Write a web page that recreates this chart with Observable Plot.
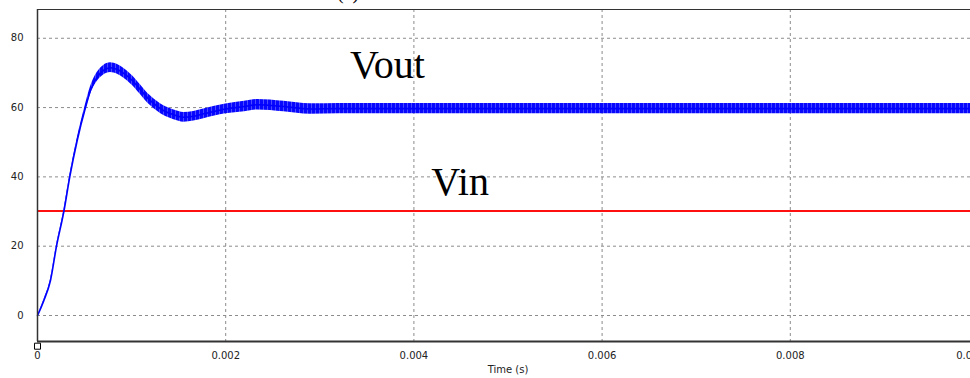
<!DOCTYPE html>
<html>
<head>
<meta charset="utf-8">
<script src="https://cdn.jsdelivr.net/npm/d3@7"></script>
<script src="https://cdn.jsdelivr.net/npm/@observablehq/plot@0.6"></script>
<style>
  html, body { margin: 0; padding: 0; background: #fff; overflow: hidden; }
  #wrap { position: relative; width: 970px; height: 378px; overflow: hidden; }
  #caption { position: absolute; left: 337px; top: -18px; font: 20px "Liberation Serif", serif; line-height: 20px; color: #000; }
</style>
</head>
<body>
<div id="wrap">
  <div id="chart"></div>
  <div id="caption">(a)</div>
</div>
<script>
// Output voltage transient (s, V) and half peak-to-peak switching ripple
const time = [0, 0.000067, 0.000138, 0.000202, 0.00028, 0.000343, 0.000422, 0.00051, 0.000563, 0.000634,
              0.0007, 0.000776, 0.00085, 0.000988, 0.0012, 0.001342, 0.00145, 0.001555, 0.00166, 0.001767,
              0.002, 0.0022, 0.002335, 0.002617, 0.0029, 0.0032, 0.004, 0.006, 0.008, 0.01];
const vout = [0, 4.3, 10.1, 20, 30, 40, 50.5, 60, 64.9, 68.8,
              70.7, 71.5, 71, 68.3, 62, 59.1, 57.9, 57.2, 57.5, 58.2,
              59.6, 60.3, 60.8, 60.3, 59.6, 59.7, 59.7, 59.7, 59.7, 59.7];
const ripple = [0, 0.2, 0.3, 0.3, 0.4, 0.5, 0.6, 0.9, 1.1, 1.3,
                1.4, 1.4, 1.4, 1.4, 1.4, 1.4, 1.4, 1.4, 1.4, 1.4,
                1.4, 1.5, 1.5, 1.5, 1.5, 1.5, 1.5, 1.5, 1.5, 1.5];

// Input voltage (constant source)
const vinLevel = [30];

// Axes
const xDomain = [0, 0.01];
const yDomain = [-7.5, 88.3];
const xTicks = [0, 0.002, 0.004, 0.006, 0.008];
const xLastTick = [0.01];
const xGrid = [0.002, 0.004, 0.006, 0.008];
const yTicks = [0, 20, 40, 60, 80];
const xLabel = "Time (s)";

// Trace names placed in the plot
const traceNames = ["Vout", "Vin"];
const traceNameT = [0.00332, 0.004185];
const traceNameV = [72.1, 38.4];

const rows = time.map((t, i) => ({t, v: vout[i], lo: vout[i] - ripple[i], hi: vout[i] + ripple[i]}));
const nameRows = traceNames.map((s, i) => ({s, t: traceNameT[i], v: traceNameV[i]}));

const gridStyle = {stroke: "#8c8c8c", strokeOpacity: 1, strokeDasharray: "3,3"};
const tickFormat = d => d === 0 ? "0" : d.toFixed(3);

const chart = Plot.plot({
  width: 970,
  height: 378,
  marginLeft: 37,
  marginRight: -8,
  marginTop: 9,
  marginBottom: 37,
  style: {fontFamily: "DejaVu Sans", fontSize: "10px", background: "#fff", color: "#222"},
  x: {domain: xDomain},
  y: {domain: yDomain},
  marks: [
    Plot.gridY(yTicks, gridStyle),
    Plot.gridX(xGrid, gridStyle),
    Plot.ruleY(vinLevel, {stroke: "#ff1010", strokeWidth: 2, dy: -0.5}),
    Plot.areaY(rows, {x: "t", y1: "lo", y2: "hi", fill: "url(#ripple)", curve: "monotone-x"}),
    Plot.line(rows, {x: "t", y: "v", stroke: "#0000ff", strokeWidth: 1.6, curve: "monotone-x"}),
    Plot.ruleY([yDomain[1]], {stroke: "#333", strokeWidth: 1}),
    Plot.ruleY([yDomain[0]], {stroke: "#333", strokeWidth: 2}),
    Plot.ruleX([xDomain[0]], {stroke: "#333", strokeWidth: 1.5}),
    Plot.axisY(yTicks, {tickSize: 0, tickPadding: 14, label: null, fill: "#222"}),
    Plot.axisX(xTicks, {tickSize: 0, tickPadding: 10, label: null, fill: "#222", tickFormat}),
    Plot.axisX(xLastTick, {tickSize: 0, tickPadding: 10, label: null, fill: "#222", tickFormat, dx: -8}),
    Plot.text([xLabel], {frameAnchor: "bottom", dy: 31, text: d => d, fill: "#222", fontSize: 10}),
    Plot.dot([xDomain[0]], {x: d => d, frameAnchor: "bottom", dy: 4.7, symbol: "square", r: 3.4,
      fill: "#fff", stroke: "#000", strokeWidth: 1}),
    Plot.text(nameRows, {x: "t", y: "v", text: "s", textAnchor: "start", lineAnchor: "middle",
      fontFamily: "Liberation Serif", fontSize: 40, fill: "#000"})
  ]
});

// Fill texture for the switching-ripple band
const defs = document.createElementNS("http://www.w3.org/2000/svg", "defs");
defs.innerHTML = `<pattern id="ripple" width="4" height="8" patternUnits="userSpaceOnUse">
  <rect width="4" height="8" fill="#0808ff"/>
  <rect x="3" width="1" height="8" fill="#4a4aff"/>
</pattern>`;
chart.insertBefore(defs, chart.firstChild);

document.getElementById("chart").appendChild(chart);
</script>
</body>
</html>
